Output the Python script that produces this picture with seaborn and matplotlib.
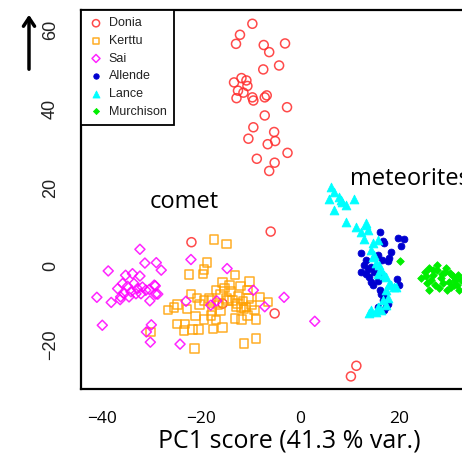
import matplotlib
matplotlib.use("Agg")
import matplotlib.pyplot as plt
import seaborn as sns
import pandas as pd

# PCA scores, one pair of lists per group
donia_x = [-9.6, -12.1, -12.9, -7.3, -6.2, -3.0, -7.4, -4.2, -11.8, -13.3, -10.8, -10.6,
           -12.5, -11.4, -12.8, -9.6, -9.4, -7.1, -6.7, -2.6, -7.1, -9.4, -10.4, -5.2,
           -5.0, -6.5, -2.5, -8.7, -5.1, -6.2, -21.9, -5.9, -5.1, -15.6, 11.4, 10.3]
donia_y = [61.6, 58.8, 56.5, 56.2, 54.4, 56.6, 50.0, 51.0, 47.8, 46.7, 47.2, 45.8,
           44.6, 44.1, 42.7, 42.9, 42.1, 42.9, 43.4, 40.4, 38.3, 35.3, 32.4, 34.1,
           31.8, 31.0, 28.8, 27.3, 26.3, 24.2, 6.1, 8.8, -12.0, -9.5, -25.3, -28.0]

kerttu_x = [-17.4, -14.8, -18.8, -22.4, -19.5, -19.3, -13.1, -15.6, -10.2, -22.0, -16.0, -13.9,
            -10.6, -10.4, -14.8, -13.6, -19.3, -18.0, -20.3, -24.7, -25.4, -16.6, -12.9, -11.9,
            -10.9, -9.2, -6.5, -17.8, -16.0, -21.1, -19.3, -18.0, -13.1, -11.8, -10.6, -8.9,
            -24.8, -23.2, -23.4, -21.7, -20.5, -17.6, -15.6, -8.9, -26.6, -21.3, -11.3, -30.2,
            -14.6, -12.6, -11.3, -17.0, -18.3, -12.5, -11.5, -15.2, -14.2, -12.0, -9.8, -8.0,
            -17.0, -20.8, -22.8]
kerttu_y = [6.8, 5.6, 0.9, -2.1, -1.9, -0.8, -2.3, -4.1, -3.9, -7.0, -7.2, -6.4,
            -6.1, -8.2, -8.2, -8.7, -8.7, -8.7, -9.7, -9.7, -10.5, -9.9, -10.2, -10.5,
            -10.4, -11.2, -9.1, -11.4, -11.4, -12.6, -13.5, -12.5, -13.3, -13.5, -12.5, -13.5,
            -14.6, -14.6, -16.3, -16.1, -16.1, -15.9, -15.6, -18.4, -11.2, -20.9, -19.6, -16.7,
            -8.7, -9.5, -10.8, -13.7, -8.2, -7.5, -8.8, -5.5, -4.8, -5.0, -9.8, -7.8,
            -6.0, -8.0, -10.8]

sai_x = [-32.3, -38.7, -31.3, -29.0, -28.0, -22.0, -14.7, -41.0, -38.1, -39.9, -30.3, -28.7,
         -29.2, -30.0, -31.0, -30.2, -24.2, -23.0, -9.4, -18.0, -7.1, -3.2, 3.0, -16.8,
         -35.2, -33.8, -32.3, -36.8, -35.8, -34.8, -33.5, -32.8, -31.8, -31.1, -35.5, -34.1,
         -33.1, -32.1, -36.2, -34.5, -30.4, -29.4, -29.1, -36.3]
sai_y = [4.3, -1.2, 0.8, 0.9, -1.0, 1.7, -0.6, -7.9, -9.2, -15.0, -8.8, -7.1,
         -5.0, -14.9, -16.7, -19.3, -19.8, -8.9, -6.1, -9.9, -10.3, -7.9, -14.0, -8.8,
         -2.3, -1.9, -2.5, -5.7, -4.4, -5.1, -4.4, -5.7, -5.3, -6.1, -7.0, -6.5,
         -7.0, -7.0, -7.8, -7.8, -5.9, -4.8, -7.1, -8.5]

allende_x = [16.2, 16.8, 17.0, 19.9, 21.1, 20.4, 12.3, 15.8, 18.4, 18.0, 16.5, 17.7,
             13.3, 13.0, 13.7, 14.3, 12.3, 13.3, 15.0, 14.0, 16.0, 14.3, 15.7, 19.6,
             20.1, 14.7, 16.2, 16.4, 16.7, 17.7, 17.4, 17.0, 15.7, 17.0]
allende_y = [8.6, 6.4, 5.8, 7.2, 7.0, 5.2, 3.4, 2.8, 3.5, 2.1, 1.6, 1.3,
             1.5, 0.3, -0.6, -0.2, -1.5, -1.9, -1.5, -2.7, -2.7, -4.0, -3.8, -3.3,
             -4.8, -4.8, -6.1, -7.0, -8.7, -9.5, -10.4, -11.2, -10.4, -7.8]

lance_x = [6.3, 6.9, 5.9, 7.9, 8.6, 11.0, 9.3, 6.8, 9.3, 11.3, 13.3, 12.3,
           13.7, 13.0, 14.7, 15.7, 14.3, 14.7, 15.4, 16.4, 15.7, 17.4, 18.0, 19.1,
           17.4, 16.7, 17.7, 15.7, 14.3, 16.4, 14.0, 15.4, 17.4, 8.3, 13.3, 15.0,
           16.0, 17.0, 18.4, 19.4]
lance_y = [20.2, 18.9, 17.2, 17.6, 16.4, 17.2, 15.5, 14.2, 11.3, 10.0, 10.9, 8.7,
           9.2, 7.0, 5.8, 6.6, 4.1, 2.4, 0.7, -1.0, -1.9, -2.7, -4.4, -5.3,
           -6.1, -8.7, -8.2, -10.3, -11.2, -11.2, -11.9, -11.6, -9.9, 16.8, 10.4, 2.8,
           0.3, -2.3, -4.8, -5.3]

murchison_x = [20.3, 24.4, 25.3, 26.1, 26.9, 27.7, 28.5, 29.3, 30.1, 30.9, 31.7, 32.5,
               25.7, 26.5, 27.3, 28.1, 28.9, 29.7, 30.5, 31.3, 32.1, 26.1, 26.9, 27.7,
               29.5, 28.7, 25.5, 30.3, 31.1, 31.9, 33.5, 34.5, 35.0]
murchison_y = [1.3, -3.1, -1.5, -0.5, -2.3, -1.0, -3.1, -1.5, -4.1, -2.5, -4.8, -3.6,
               -4.3, -3.6, -4.8, -5.6, -4.3, -6.1, -5.3, -3.6, -6.1, -6.1, -1.0, 0.3,
               -0.5, -2.0, -2.5, -1.8, -4.8, -2.3, -3.0, -4.5, -2.0]

groups = ["Donia", "Kerttu", "Sai", "Allende", "Lance", "Murchison"]
xs = [donia_x, kerttu_x, sai_x, allende_x, lance_x, murchison_x]
ys = [donia_y, kerttu_y, sai_y, allende_y, lance_y, murchison_y]
colors = ["#ff2a2a", "#ffa000", "#ff00ff", "#0000d0", "#00ffff", "#00ee00"]
markers = ["o", "s", "D", "o", "^", "D"]
filled = [False, False, False, True, True, True]
sizes = [42, 36, 26, 24, 40, 15]

frames = []
for g, x, y in zip(groups, xs, ys):
    frames.append(pd.DataFrame({"pc1": x, "pc2": y, "group": g}))
df = pd.concat(frames, ignore_index=True)

sns.set_style("white", {"text.color": "black", "axes.labelcolor": "black",
                        "xtick.color": "black", "ytick.color": "black"})
plt.rcParams["font.family"] = ["Liberation Sans", "DejaVu Sans"]

fig = plt.figure(figsize=(4.62, 4.66), dpi=100)
# axes run past the right edge of the picture, as in the cropped original
ax = fig.add_axes([81 / 462, 77 / 466, 417 / 462, 379 / 466])

for g, c, m, f, s in zip(groups, colors, markers, filled, sizes):
    sub = df[df["group"] == g]
    if f:
        sns.scatterplot(data=sub, x="pc1", y="pc2", ax=ax, color=c, marker=m, s=s,
                        edgecolor=c, linewidth=0.6, label=g, legend=False)
    else:
        sns.scatterplot(data=sub, x="pc1", y="pc2", ax=ax, color=c, marker=m, s=s,
                        facecolors="none", edgecolor=c, linewidth=1.1, alpha=0.85,
                        label=g, legend=False)

ax.set_xlim(-44.2, 40)
ax.set_ylim(-31.2, 65.1)
ax.set_xticks([-40, -20, 0, 20])
ax.set_yticks([-20, 0, 20, 40, 60])
ax.set_xticklabels(["\u221240", "\u221220", "0", "20"], fontsize=12.5,
                   family=["Open Sans", "DejaVu Sans"])
ax.set_yticklabels(["\u221220", "0", "20", "40", "60"], rotation=90, va="center",
                   fontsize=13, color="#222222")
ax.tick_params(axis="both", direction="out", length=7, width=1.5, color="black")
ax.tick_params(axis="y", pad=9)
ax.tick_params(axis="x", pad=9)
for sp in ax.spines.values():
    sp.set_color("black")
    sp.set_linewidth(1.6)

ax.set_xlabel("PC1 score (41.3 % var.)", fontsize=18, family=["Open Sans", "DejaVu Sans"],
              labelpad=1, color="black")
ax.set_ylabel("")

ax.text(-30.3, 14.8, "comet", fontsize=17, family=["Open Sans", "DejaVu Sans"],
        ha="left", va="baseline", color="black")
ax.text(10.1, 20.6, "meteorites", fontsize=17, family=["Open Sans", "DejaVu Sans"],
        ha="left", va="baseline", color="black")

leg = ax.legend(loc="upper left", borderaxespad=0, fontsize=9, frameon=True,
                fancybox=False, handletextpad=0.4, labelspacing=0.45,
                borderpad=0.6, handlelength=1.2, markerscale=0.8)
leg.get_frame().set_edgecolor("black")
leg.get_frame().set_linewidth(1.3)
leg.get_frame().set_alpha(1)
for t in leg.get_texts():
    t.set_color("#222222")

# arrow standing in for the y axis title
fig.add_artist(matplotlib.patches.FancyArrowPatch(
    (29 / 462, 394 / 466), (29 / 462, 454 / 466), transform=fig.transFigure,
    arrowstyle="->,head_length=6,head_width=4", linewidth=2.5, color="black"))

fig.savefig("out.png", dpi=100)
